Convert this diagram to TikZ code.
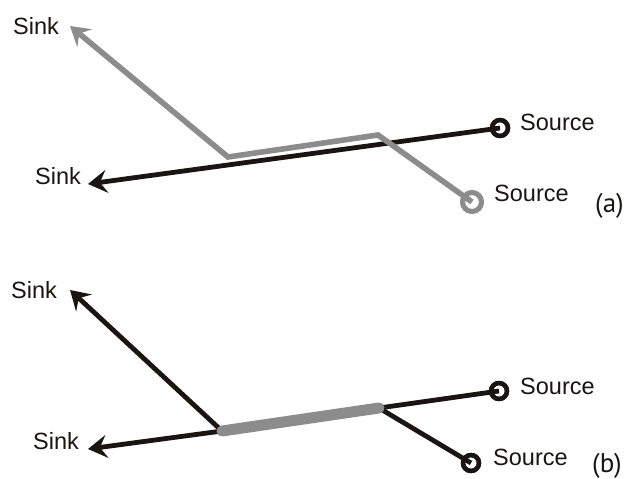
\documentclass[tikz,border=0pt]{standalone}
\usepackage{fontspec}
\setmainfont{Liberation Sans}
\newfontfamily\lblfont{PT Sans}
\usetikzlibrary{arrows.meta}
\definecolor{dk}{HTML}{1A1512}
\definecolor{gr}{HTML}{8C8C8C}
\tikzset{
  wire/.style={line width=4.8pt, draw=dk},
  gwire/.style={line width=5.6pt, draw=gr},
  bar/.style={line width=11pt, draw=gr, line cap=round},
  tip/.style={-{Stealth[length=19pt,width=23pt,inset=7pt]}},
  src/.style={circle, draw=dk, line width=4.4pt, minimum size=16pt, inner sep=0pt},
  gsrc/.style={circle, draw=gr, line width=4.8pt, minimum size=19pt, inner sep=0pt},
  lbl/.style={anchor=west, inner sep=0pt, text=dk, font=\fontsize{23.5}{27}\selectfont},
  tag/.style={anchor=west, inner sep=0pt, text=dk, font=\lblfont\fontsize{27}{31}\selectfont},
}
\begin{document}
\begin{tikzpicture}[x=1pt,y=-1pt]
\useasboundingbox (0,0) rectangle (629,479);
% ---------- panel (a) ----------
\node[src] (sa1) at (500,128) {};
\node[gsrc] (sa2) at (472,202) {};
\coordinate (ka1) at (88,184);
\coordinate (ka2) at (70,26);
\coordinate (ba1) at (378,135);
\coordinate (ba2) at (228,157);
\draw[wire,tip] (sa1.center) -- (ka1);
\draw[gwire,tip,line join=miter] (sa2.center) -- (ba1) -- (ba2) -- (ka2);
\node[src] at (sa1) {};
\node[gsrc] at (sa2) {};
\node[lbl] (la1) at (13,26) {Sink};
\node[lbl] (la2) at (35,176) {Sink};
\node[lbl] (la3) at (520,122) {Source};
\node[lbl] (la4) at (494,193) {Source};
\node[tag] (ta) at (595,206) {(a)};
% ---------- panel (b) ----------
\node[src] (sb1) at (499,391) {};
\node[src] (sb2) at (471,463) {};
\coordinate (jb1) at (222,431);
\coordinate (jb2) at (379,408);
\coordinate (kb1) at (70,290);
\coordinate (kb2) at (88,449);
\draw[wire] (sb1.center) -- (jb2);
\draw[wire] (sb2.center) -- (jb2);
\draw[wire,tip] (jb1) -- (kb1);
\draw[wire,tip] (jb1) -- (kb2);
\draw[bar] (jb1) -- (jb2);
\node[src] at (sb1) {};
\node[src] at (sb2) {};
\node[lbl] (lb1) at (11,290) {Sink};
\node[lbl] (lb2) at (33,441) {Sink};
\node[lbl] (lb3) at (520,386) {Source};
\node[lbl] (lb4) at (493,457) {Source};
\node[tag] (tb) at (592,466) {(b)};
\end{tikzpicture}
\end{document}
